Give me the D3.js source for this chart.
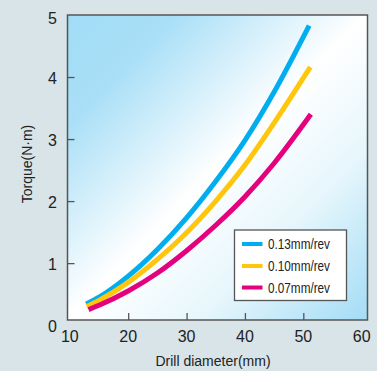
<!DOCTYPE html>
<html>
<head>
<meta charset="utf-8">
<script src="https://cdn.jsdelivr.net/npm/d3@7"></script>
<style>
  html, body { margin: 0; padding: 0; background: #d8e4e7; }
  svg { display: block; }
  text { font-family: "Liberation Sans", Arial, sans-serif; fill: #222; }
</style>
</head>
<body>
<svg id="chart" width="377" height="371"></svg>
<script>
// ---- data ----
const xTicks = [10, 20, 30, 40, 50, 60];
const yTicks = [0, 1, 2, 3, 4, 5];
const seriesNames = ["0.13mm/rev", "0.10mm/rev", "0.07mm/rev"];
const seriesColors = ["#00aeef", "#ffc60b", "#e5007e"];
const diam013 = [12.8, 15, 20, 25, 30, 35, 40, 45, 51.0];
const torque013 = [0.34, 0.45, 0.79, 1.22, 1.73, 2.32, 2.98, 3.76, 4.83];
const diam010 = [12.9, 15, 20, 25, 30, 35, 40, 45, 51.2];
const torque010 = [0.30, 0.40, 0.69, 1.06, 1.49, 2.00, 2.58, 3.26, 4.16];
const diam007 = [13.2, 15, 20, 25, 30, 35, 40, 45, 51.3];
const torque007 = [0.25, 0.32, 0.55, 0.84, 1.20, 1.61, 2.07, 2.61, 3.40];

const series = [
  { name: seriesNames[0], color: seriesColors[0], x: diam013, y: torque013 },
  { name: seriesNames[1], color: seriesColors[1], x: diam010, y: torque010 },
  { name: seriesNames[2], color: seriesColors[2], x: diam007, y: torque007 }
];

const svg = d3.select("#chart");
const L = 67.5, R = 367.5, T = 15, B = 320;

const x = d3.scaleLinear().domain([9.6, 61.0]).range([L, R]);
const y = d3.scaleLinear().domain([0.083, 5.0]).range([B, T]);

// gradient
const defs = svg.append("defs");
const g = defs.append("linearGradient").attr("id", "bg")
  .attr("x1", 0).attr("y1", 0).attr("x2", 1).attr("y2", 1);
[[0, "#a2dcf6"], [0.18, "#a9dff7"], [0.5, "#ffffff"], [0.72, "#e6f6fc"], [1, "#a3dcf6"]]
  .forEach(([o, c]) => g.append("stop").attr("offset", o).attr("stop-color", c));

svg.append("rect").attr("x", L).attr("y", T).attr("width", R - L).attr("height", B - T)
  .attr("fill", "url(#bg)");

// curves
const line = d3.line().x(d => x(d[0])).y(d => y(d[1])).curve(d3.curveMonotoneX);
series.forEach(s => {
  const pts = s.x.map((v, i) => [v, s.y[i]]);
  svg.append("path").attr("d", line(pts)).attr("fill", "none")
    .attr("stroke", s.color).attr("stroke-width", 5);
});

// axes (inward ticks)
const axisColor = "#555";
const xAxis = d3.axisBottom(x).tickValues(xTicks.slice(1, -1)).tickSize(-7).tickFormat("");
const yAxis = d3.axisLeft(y).tickValues(yTicks.slice(1, -1)).tickSize(-7).tickFormat("");
const gx = svg.append("g").attr("transform", `translate(0,${B})`).call(xAxis);
const gy = svg.append("g").attr("transform", `translate(${L},0)`).call(yAxis);
[gx, gy].forEach(a => {
  a.select(".domain").remove();
  a.selectAll("line").attr("stroke", axisColor).attr("stroke-width", 1.3);
});

// frame
svg.append("rect").attr("x", L).attr("y", T).attr("width", R - L).attr("height", B - T)
  .attr("fill", "none").attr("stroke", axisColor).attr("stroke-width", 1.5);

// tick labels
svg.append("g").selectAll("text").data(xTicks).join("text")
  .attr("x", d => x(d)).attr("y", 342)
  .attr("text-anchor", "middle").attr("font-size", 16)
  .text(d => d);
svg.append("g").selectAll("text").data(yTicks).join("text")
  .attr("x", 57).attr("y", d => Math.max(y(d) + 6.5, 23.5))
  .attr("text-anchor", "end").attr("font-size", 16)
  .text(d => d);

// axis titles
svg.append("text").attr("x", 213).attr("y", 366)
  .attr("text-anchor", "middle").attr("font-size", 14)
  .text("Drill diameter(mm)");
svg.append("text").attr("transform", "translate(32,164) rotate(-90)")
  .attr("text-anchor", "middle").attr("font-size", 14)
  .text("Torque(N·m)");

// legend
const lg = svg.append("g");
lg.append("rect").attr("x", 234.5).attr("y", 230).attr("width", 112).attr("height", 70.5)
  .attr("fill", "#fff").attr("stroke", "#555").attr("stroke-width", 1.3);
const legY = [244, 266, 287.5];
series.forEach((s, i) => {
  lg.append("line").attr("x1", 242).attr("x2", 262.5)
    .attr("y1", legY[i]).attr("y2", legY[i])
    .attr("stroke", s.color).attr("stroke-width", 4);
  lg.append("text").attr("x", 268).attr("y", legY[i] + 5)
    .attr("font-size", 14.5).attr("textLength", 62).attr("lengthAdjust", "spacingAndGlyphs")
    .text(s.name);
});
</script>
</body>
</html>
